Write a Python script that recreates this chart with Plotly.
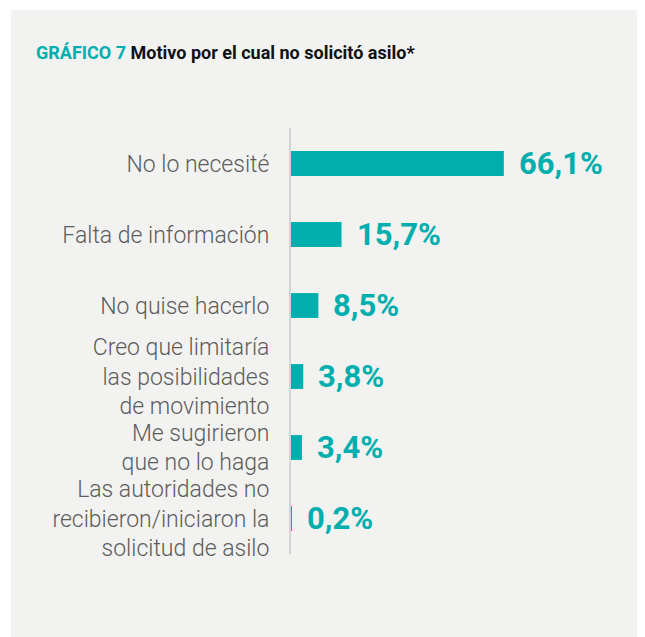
import plotly.graph_objects as go

categories = [
    "No lo necesité",
    "Falta de información",
    "No quise hacerlo",
    "Creo que limitaría<br>las posibilidades<br>de movimiento",
    "Me sugirieron<br>que no lo haga",
    "Las autoridades no<br>recibieron/iniciaron la<br>solicitud de asilo",
]
values = [66.1, 15.7, 8.5, 3.8, 3.4, 0.2]
value_labels = ["66,1%", "15,7%", "8,5%", "3,8%", "3,4%", "0,2%"]

W, H = 645, 637
OFF = 8  # page body offset
L, R, T, B = 291 - OFF, 25, 128 - OFF, 83 + OFF
PW, PH = W - L - R, H - T - B
TEAL = "#00afad"
BG = "#f2f2f1"

def px(x):
    return (x - OFF - L) / PW

def py(y):
    return 1 - (y - OFF - T) / PH

fig = go.Figure()
fig.add_trace(go.Bar(
    x=values, y=categories, orientation="h",
    marker=dict(color=TEAL, line=dict(width=0)),
    width=0.35, hoverinfo="skip",
))

for c, v, t in zip(categories, values, value_labels):
    fig.add_annotation(x=v, y=c, text=t, showarrow=False, xanchor="left",
                       xshift=13, yshift=0,
                       font=dict(family="Roboto", size=31, color=TEAL, weight="bold"))

fig.add_shape(type="rect", xref="paper", yref="paper",
              x0=px(11), x1=px(W + 20), y0=py(H + 20), y1=py(10),
              fillcolor=BG, line=dict(width=0), layer="below")

fig.update_layout(
    width=W, height=H,
    margin=dict(l=L, r=R, t=T, b=B, autoexpand=False),
    paper_bgcolor="white", plot_bgcolor="rgba(0,0,0,0)",
    showlegend=False,
    title=dict(
        text="<span style='color:%s'>GRÁFICO 7</span> Motivo por el cual no solicitó asilo*" % TEAL,
        x=(36 - OFF) / W, xanchor="left", xref="container",
        y=1 - (53 - OFF) / H, yanchor="middle", yref="container",
        font=dict(family="Roboto", size=18, color="#111111", weight="bold"),
    ),
    xaxis=dict(range=[0, PW / 3.22], visible=False, fixedrange=True),
    yaxis=dict(
        autorange=False, range=[5.5, -0.5], type="category",
        showline=True, linecolor="#d3d3d3", linewidth=2,
        showgrid=False, zeroline=False, ticks="",
        ticklabelstandoff=15,
        tickfont=dict(family="Roboto", size=23, color="#5c5c5c", weight=300),
    ),
)

fig.write_html("out.html")
